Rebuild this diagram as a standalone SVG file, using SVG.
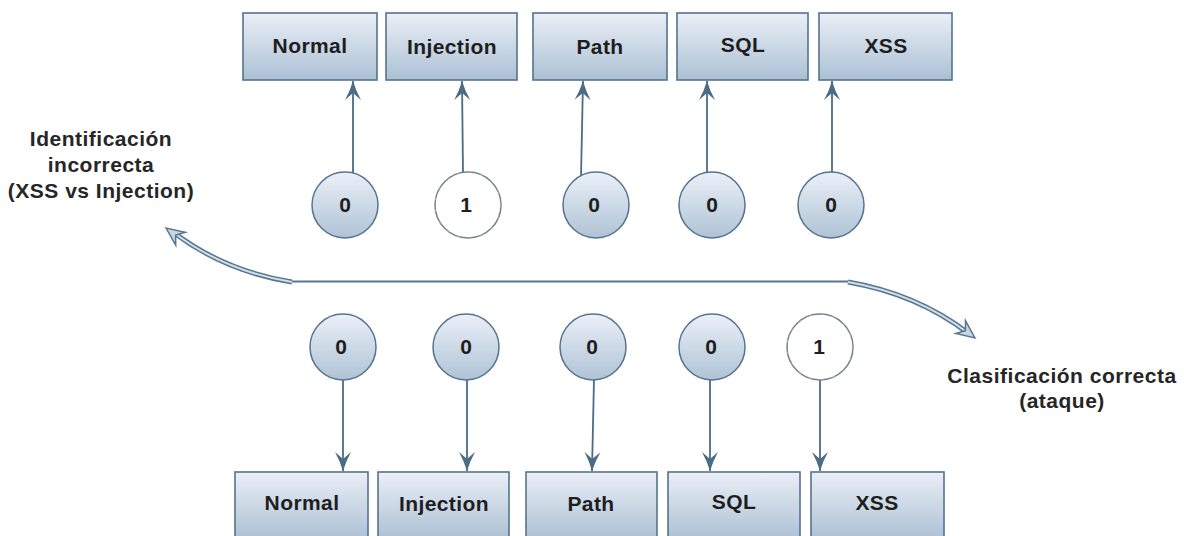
<svg xmlns="http://www.w3.org/2000/svg" width="1184" height="536" viewBox="0 0 1184 536">
  <defs>
    <linearGradient id="boxFill" x1="0" y1="0" x2="0" y2="1">
      <stop offset="0" stop-color="#ebeff7"/>
      <stop offset="1" stop-color="#abc0d3"/>
    </linearGradient>
    <linearGradient id="bubbleFill" x1="0" y1="0" x2="0" y2="1">
      <stop offset="0" stop-color="#ebf0f8"/>
      <stop offset="1" stop-color="#afc3d5"/>
    </linearGradient>
    <marker id="tip" markerUnits="userSpaceOnUse" markerWidth="22" markerHeight="20" viewBox="-21 -10 22 20" refX="0" refY="0" orient="auto">
      <path d="M0,0 Q-10,-3 -19,-8 L-12,0 L-19,8 Q-10,3 0,0 Z" fill="#4b6b86"/>
    </marker>
    <marker id="hollowTip" markerUnits="userSpaceOnUse" markerWidth="24" markerHeight="22" viewBox="-21 -11 24 22" refX="0" refY="0" orient="auto">
      <path d="M0,0 L-18,-8 L-12,0 L-18,8 Z" fill="#c9d6e2" stroke="#56768f" stroke-width="1.5" stroke-linejoin="miter"/>
    </marker>
  </defs>
  <style>
    .box { fill: url(#boxFill); stroke: #56748e; stroke-width: 1.6; }
    .bubble { fill: url(#bubbleFill); stroke: #56748e; stroke-width: 1.5; }
    .hit { fill: #ffffff; stroke: #6b8398; stroke-width: 1.5; }
    .hitDash { fill: none; stroke: #e0a070; stroke-width: 1; stroke-dasharray: 3 9; }
    .lbl { font-family: "Liberation Sans", Arial, sans-serif; font-weight: bold; font-size: 21px; letter-spacing: 0.4px; fill: #1e1e1e; text-anchor: middle; }
    .num { font-family: "Liberation Sans", Arial, sans-serif; font-weight: bold; font-size: 21px; fill: #1e1e1e; text-anchor: middle; }
    .note { font-family: "Liberation Sans", Arial, sans-serif; font-weight: bold; font-size: 21px; letter-spacing: 0.5px; fill: #262626; text-anchor: middle; }
    .link { fill: none; stroke: #4b6b86; stroke-width: 1.8; }
    .bandOuter { fill: none; stroke: #56768f; stroke-width: 5; stroke-linecap: butt; }
    .bandInner { fill: none; stroke: #d3dee8; stroke-width: 2; stroke-linecap: butt; }
    .flat { fill: none; stroke: #56768f; stroke-width: 2; }
  </style>

  <!-- straight links: circles to class boxes -->
  <g id="connectors">
    <!-- upper row: bubble -> box above -->
    <line class="link" x1="353" y1="174" x2="353" y2="81" marker-end="url(#tip)"/>
    <line class="link" x1="463" y1="173" x2="462" y2="81" marker-end="url(#tip)"/>
    <line class="link" x1="581" y1="177" x2="583" y2="81" marker-end="url(#tip)"/>
    <line class="link" x1="707" y1="174" x2="707" y2="81" marker-end="url(#tip)"/>
    <line class="link" x1="832" y1="173" x2="832" y2="81" marker-end="url(#tip)"/>
    <!-- lower row: bubble -> box below -->
    <line class="link" x1="343" y1="379" x2="343" y2="471" marker-end="url(#tip)"/>
    <line class="link" x1="467" y1="379" x2="467" y2="471" marker-end="url(#tip)"/>
    <line class="link" x1="594" y1="379" x2="592" y2="471" marker-end="url(#tip)"/>
    <line class="link" x1="710" y1="379" x2="710" y2="471" marker-end="url(#tip)"/>
    <line class="link" x1="820" y1="379" x2="820" y2="471" marker-end="url(#tip)"/>
  </g>

  <!-- bent two-way pointer between the annotations -->
  <g id="curved-pointer">
    <line class="flat" x1="290" y1="281.5" x2="852" y2="281.5"/>
    <path class="bandOuter" d="M292,282 Q224,271 173,232"/>
    <path class="bandInner" d="M292,282 Q224,271 173,232"/>
    <path d="M292,282 Q224,271 166,228" fill="none" stroke="none" marker-end="url(#hollowTip)"/>
    <path class="bandOuter" d="M848,282 Q917,294 968,333"/>
    <path class="bandInner" d="M848,282 Q917,294 968,333"/>
    <path d="M848,282 Q917,294 975,338" fill="none" stroke="none" marker-end="url(#hollowTip)"/>
  </g>

  <!-- upper class boxes -->
  <g id="top-normal"><rect class="box" x="243" y="13" width="134" height="67"/><text class="lbl" x="310" y="53">Normal</text></g>
  <g id="top-injection"><rect class="box" x="386" y="13" width="131" height="67"/><text class="lbl" x="452" y="54">Injection</text></g>
  <g id="top-path"><rect class="box" x="533" y="13" width="134" height="67"/><text class="lbl" x="600" y="54">Path</text></g>
  <g id="top-sql"><rect class="box" x="677" y="13" width="131" height="67"/><text class="lbl" x="743" y="52">SQL</text></g>
  <g id="top-xss"><rect class="box" x="819" y="13" width="133" height="67"/><text class="lbl" x="886" y="53">XSS</text></g>

  <!-- upper output bubbles -->
  <g id="top-out-normal"><circle class="bubble" cx="345" cy="205" r="33"/><text class="num" x="345" y="212">0</text></g>
  <g id="top-out-injection"><circle class="hit" cx="468" cy="205" r="33"/><circle class="hitDash" cx="468" cy="205" r="33"/><text class="num" x="466" y="212">1</text></g>
  <g id="top-out-path"><circle class="bubble" cx="596" cy="205" r="33"/><text class="num" x="594" y="212">0</text></g>
  <g id="top-out-sql"><circle class="bubble" cx="712" cy="205" r="33"/><text class="num" x="712" y="212">0</text></g>
  <g id="top-out-xss"><circle class="bubble" cx="831" cy="205" r="33"/><text class="num" x="831" y="212">0</text></g>

  <!-- lower output bubbles -->
  <g id="bottom-out-normal"><circle class="bubble" cx="343" cy="347" r="33"/><text class="num" x="341" y="354">0</text></g>
  <g id="bottom-out-injection"><circle class="bubble" cx="466" cy="347" r="33"/><text class="num" x="466" y="354">0</text></g>
  <g id="bottom-out-path"><circle class="bubble" cx="593" cy="347" r="33"/><text class="num" x="592" y="354">0</text></g>
  <g id="bottom-out-sql"><circle class="bubble" cx="712" cy="347" r="33"/><text class="num" x="711" y="354">0</text></g>
  <g id="bottom-out-xss"><circle class="hit" cx="820" cy="347" r="33"/><circle class="hitDash" cx="820" cy="347" r="33"/><text class="num" x="819" y="354">1</text></g>

  <!-- lower class boxes -->
  <g id="bottom-normal"><rect class="box" x="235" y="472" width="133" height="68"/><text class="lbl" x="302" y="510">Normal</text></g>
  <g id="bottom-injection"><rect class="box" x="378" y="472" width="131" height="68"/><text class="lbl" x="444" y="511">Injection</text></g>
  <g id="bottom-path"><rect class="box" x="526" y="472" width="131" height="68"/><text class="lbl" x="591" y="511">Path</text></g>
  <g id="bottom-sql"><rect class="box" x="668" y="472" width="132" height="68"/><text class="lbl" x="734" y="509">SQL</text></g>
  <g id="bottom-xss"><rect class="box" x="811" y="472" width="133" height="68"/><text class="lbl" x="877" y="510">XSS</text></g>

  <!-- annotations -->
  <g id="note-wrong">
    <text class="note" x="101" y="146">Identificación</text>
    <text class="note" x="101" y="172">incorrecta</text>
    <text class="note" x="101" y="198">(XSS vs Injection)</text>
  </g>
  <g id="note-right">
    <text class="note" x="1062" y="383">Clasificación correcta</text>
    <text class="note" x="1062" y="408">(ataque)</text>
  </g>
</svg>
